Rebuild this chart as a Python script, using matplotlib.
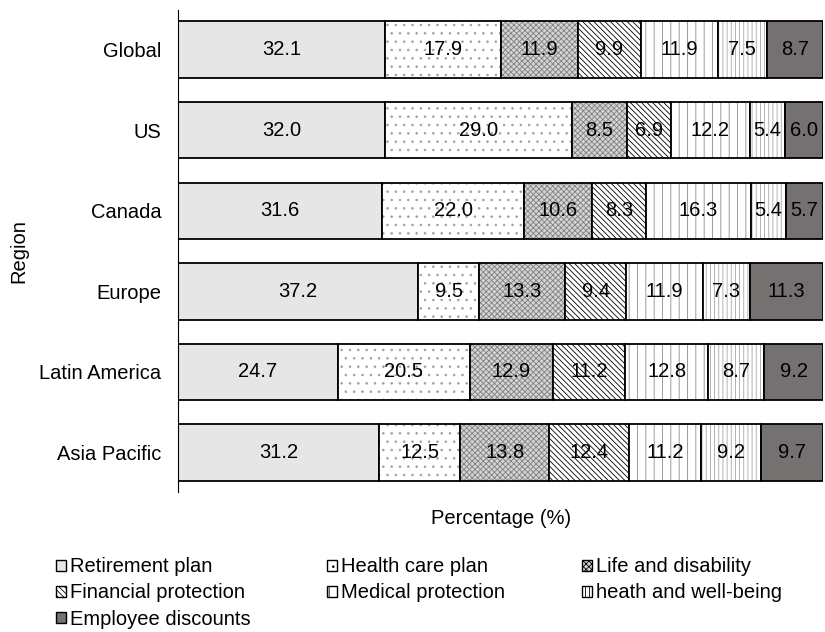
import numpy as np
import matplotlib.pyplot as plt
from matplotlib.patches import Patch

plt.rcParams['font.family'] = ['Liberation Sans', 'DejaVu Sans']
plt.rcParams['hatch.linewidth'] = 0.6

# data
regions = ['Global', 'US', 'Canada', 'Europe', 'Latin America', 'Asia Pacific']
categories = ['Retirement plan', 'Health care plan', 'Life and disability',
              'Financial protection', 'Medical protection',
              'heath and well-being', 'Employee discounts']
retirement = [32.1, 32.0, 31.6, 37.2, 24.7, 31.2]
health_care = [17.9, 29.0, 22.0, 9.5, 20.5, 12.5]
life_disab = [11.9, 8.5, 10.6, 13.3, 12.9, 13.8]
financial = [9.9, 6.9, 8.3, 9.4, 11.2, 12.4]
medical = [11.9, 12.2, 16.3, 11.9, 12.8, 11.2]
wellbeing = [7.5, 5.4, 5.4, 7.3, 8.7, 9.2]
discounts = [8.7, 6.0, 5.7, 11.3, 9.2, 9.7]
series = [retirement, health_care, life_disab, financial, medical, wellbeing, discounts]

# styles: facecolor, hatch, hatch colour
styles = [
    ('#e6e6e6', '', '#e6e6e6'),
    ('white', '..', '#a0a0a0'),
    ('#d4d4d4', 'xxxxxx', '#808080'),
    ('white', '\\' * 6, 'black'),
    ('white', '||', '#8c8c8c'),
    ('white', '||||', '#a6a6a6'),
    ('#767171', '', '#767171'),
]

FS = 14.5

fig = plt.figure(figsize=(8.25, 6.32), dpi=100)
ax = fig.add_axes([0.216, 0.2215, 0.782, 0.7625])

y = np.arange(len(regions))
left = np.zeros(len(regions))
for vals, (fc, hatch, hc) in zip(series, styles):
    vals = np.array(vals)
    ax.barh(y, vals, left=left, height=0.7, color=fc, hatch=hatch,
            edgecolor=hc, linewidth=0)
    ax.barh(y, vals, left=left, height=0.7, fill=False,
            edgecolor='black', linewidth=1.3)
    for yi, l, v in zip(y, left, vals):
        ax.text(l + v / 2, yi, f'{v:.1f}', ha='center', va='center',
                fontsize=FS, color='black')
    left += vals

ax.set_xlim(0, 100)
ax.set_ylim(5.49, -0.49)
ax.set_yticks(y)
ax.set_yticklabels(regions, fontsize=FS)
ax.tick_params(axis='y', length=0, pad=12)
ax.set_xticks([])
for s in ['top', 'right', 'bottom']:
    ax.spines[s].set_visible(False)
ax.spines['left'].set_color('black')
ax.spines['left'].set_linewidth(0.8)
ax.set_xlabel('Percentage (%)', fontsize=FS, labelpad=12)
ax.set_ylabel('Region', fontsize=FS, labelpad=8)

handles = [Patch(facecolor=fc, hatch=h, edgecolor='black', linewidth=1.0)
           for fc, h, _ in styles]
order = [0, 3, 6, 1, 4, 2, 5]
fig.legend([handles[i] for i in order], [categories[i] for i in order],
           loc='upper left', bbox_to_anchor=(0.068, 0.118), ncol=3,
           frameon=False, fontsize=FS, handlelength=0.5, handleheight=0.5,
           handletextpad=0.2, columnspacing=3.8, labelspacing=0.35,
           borderaxespad=0, borderpad=0)

fig.savefig('out.png', dpi=100)
